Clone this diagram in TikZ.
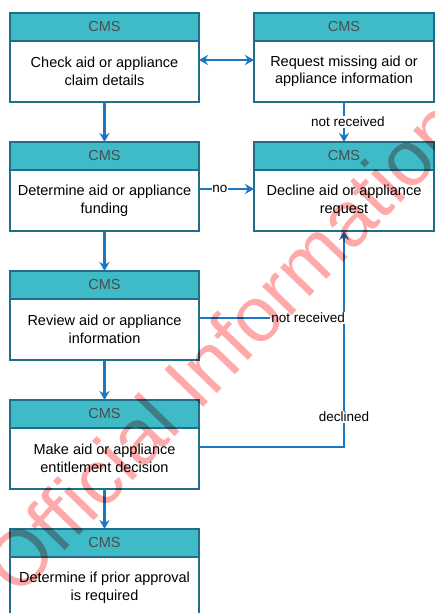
\documentclass[tikz,border=0pt]{standalone}
\usepackage{fontspec}
\setmainfont{Liberation Sans}
\usetikzlibrary{positioning,arrows.meta}
\definecolor{cmsteal}{HTML}{3FBBC7}
\definecolor{boxline}{HTML}{1F6F8B}
\definecolor{flowblue}{HTML}{1B77C5}
\definecolor{markred}{HTML}{FFAAAA}

\begin{document}
\begin{tikzpicture}[x=1pt, y=-1pt,
    head/.style={draw=boxline, line width=1.4pt, fill=cmsteal, text=black!70,
      minimum height=28pt, inner sep=0pt, outer sep=0pt,
      font=\fontsize{14.5}{17}\selectfont},
    body/.style={draw=boxline, line width=1.4pt, fill=white, minimum height=61pt,
      inner sep=0pt, outer sep=0pt, align=center,
      font=\fontsize{14.5}{17.5}\selectfont},
    flow/.style={draw=flowblue, line width=2.2pt, -{Stealth[length=9pt,width=10pt]}},
    feed/.style={draw=flowblue, line width=2.2pt},
    lbl/.style={fill=white, inner sep=1pt, font=\fontsize{13.5}{16}\selectfont}]
    \clip (0,0) rectangle (435,613);

    % Left column
    \node (h1) [head, minimum width=189pt, anchor=north west] at (10,13) {CMS};
    \node (b1) [body, minimum width=189pt, below=0pt of h1] {Check aid or appliance\\claim details};
    \node (h3) [head, minimum width=189pt, below=40pt of b1] {CMS};
    \node (b3) [body, minimum width=189pt, below=0pt of h3] {Determine aid or appliance\\funding};
    \node (h5) [head, minimum width=189pt, below=40pt of b3] {CMS};
    \node (b5) [body, minimum width=189pt, below=0pt of h5] {Review aid or appliance\\information};
    \node (h6) [head, minimum width=189pt, below=40pt of b5] {CMS};
    \node (b6) [body, minimum width=189pt, below=0pt of h6] {Make aid or appliance\\entitlement decision};
    \node (h7) [head, minimum width=189pt, below=40pt of b6] {CMS};
    \node (b7) [body, minimum width=189pt, below=0pt of h7] {Determine if prior approval\\is required};

    % Right column
    \node (h2) [head, minimum width=180pt, anchor=north west] at (254,13) {CMS};
    \node (b2) [body, minimum width=180pt, below=0pt of h2] {Request missing aid or\\appliance information};
    \node (h4) [head, minimum width=180pt, below=40pt of b2] {CMS};
    \node (b4) [body, minimum width=180pt, below=0pt of h4] {Decline aid or appliance\\request};

    % Connector starts
    \coordinate (p1) at ([yshift=11.5pt]b1.east);
    \coordinate (p3) at ([yshift=11.5pt]b3.east);
    \coordinate (p5) at ([yshift=11.5pt]b5.east);
    \coordinate (p6) at ([yshift=11.5pt]b6.east);

    % Edges
    \draw[flow] (b1.south) -- (h3.north);
    \draw[flow] (b3.south) -- (h5.north);
    \draw[flow] (b5.south) -- (h6.north);
    \draw[flow] (b6.south) -- (h7.north);
    \draw[flow, {Stealth[length=9pt,width=10pt]}-{Stealth[length=9pt,width=10pt]}] (p1) -- (p1 -| b2.west);
    \draw[flow] (b2.south) -- node[lbl, xshift=4pt] {not received} (h4.north);
    \draw[flow] (p3) -- node[lbl, pos=0.38, inner sep=0.5pt] {no} (p3 -| b4.west);
    \draw[flow] (p6) -| node[lbl, pos=0.57] {declined} (b4.south);
    \draw[feed] (p5) -- (p5 -| b4.south) node[lbl, anchor=east, xshift=3pt] {not received};

    % Watermark
    \node (mark) [rotate=46, text=markred, blend mode=multiply, font=\fontsize{78}{78}\selectfont]
      at (224,346) {Official Information};
\end{tikzpicture}
\end{document}
